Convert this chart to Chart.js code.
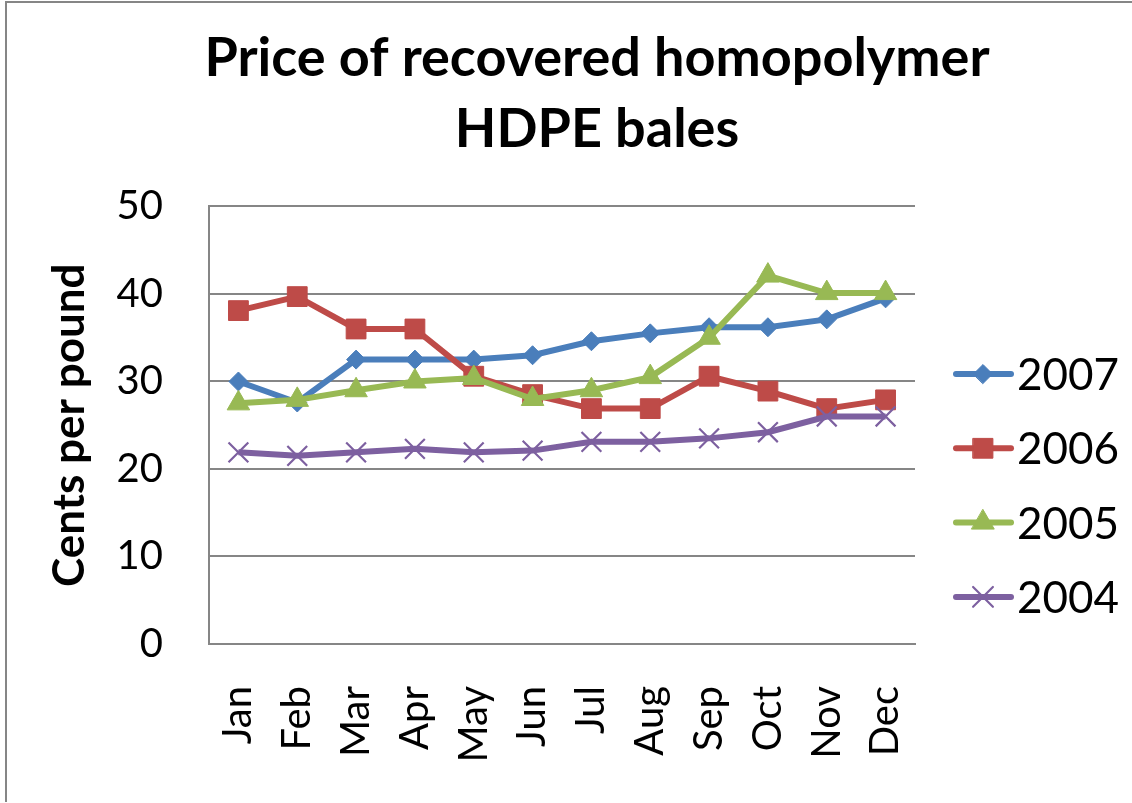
<!DOCTYPE html>
<html>
<head>
<meta charset="utf-8">
<script src="https://cdn.jsdelivr.net/npm/chart.js@4/dist/chart.umd.min.js"></script>
<style>
  body { margin: 0; overflow: hidden; background: #fff; }
  #wrap { position: absolute; left: 5px; top: 1px; border-left: 2px solid #868686; border-top: 2px solid #868686; }
  canvas { display: block; }
</style>
</head>
<body>
<div id="wrap"><canvas id="hdpeChart" width="1180" height="799"></canvas></div>
<script>
// Data (cents per pound)
const months = ['Jan', 'Feb', 'Mar', 'Apr', 'May', 'Jun', 'Jul', 'Aug', 'Sep', 'Oct', 'Nov', 'Dec'];
const seriesNames = ['2007', '2006', '2005', '2004'];
const price2007 = [30.0, 27.6, 32.5, 32.5, 32.5, 33.0, 34.6, 35.5, 36.2, 36.2, 37.1, 39.5];
const price2006 = [38.1, 39.7, 36.0, 36.0, 30.6, 28.5, 26.9, 26.9, 30.6, 28.9, 26.9, 27.9];
const price2005 = [27.5, 27.9, 29.0, 30.0, 30.4, 28.0, 29.0, 30.5, 35.0, 42.1, 40.1, 40.1];
const price2004 = [21.9, 21.5, 21.9, 22.3, 21.9, 22.1, 23.1, 23.1, 23.5, 24.2, 26.0, 26.0];
const yTicks = [0, 10, 20, 30, 40, 50];

const colors = ['#4A7EBB', '#BE4B48', '#98B954', '#7D60A0'];
const markers = ['rectRot', 'rect', 'triangle', 'crossRot'];
const markerSize = [9.5, 14, 13, 14];
const values = [price2007, price2006, price2005, price2004];

const gridGray = '#868686';
const fontFamily = 'Lato, "Open Sans", sans-serif';

// legend drawn as line + marker, like the spreadsheet legend
const lineLegend = {
    id: 'lineLegend',
    afterDraw(chart) {
        const ctx = chart.ctx;
        chart.data.datasets.forEach((ds, i) => {
            const y = 371 + i * 74.3;
            ctx.save();
            ctx.strokeStyle = ds.borderColor;
            ctx.lineWidth = 6;
            ctx.lineCap = 'round';
            ctx.beginPath();
            ctx.moveTo(949, y);
            ctx.lineTo(1004, y);
            ctx.stroke();
            ctx.fillStyle = ds.pointBackgroundColor;
            ctx.strokeStyle = ds.pointBorderColor;
            ctx.lineWidth = ds.pointBorderWidth;
            Chart.helpers.drawPoint(ctx, {pointStyle: ds.pointStyle, radius: ds.pointRadius, borderWidth: ds.pointBorderWidth}, 976, y);
            ctx.fillStyle = '#000';
            ctx.font = '44px ' + fontFamily;
            ctx.textBaseline = 'middle';
            ctx.textAlign = 'left';
            ctx.fillText(ds.label, 1010, y + 2);
            ctx.restore();
        });
    }
};

const ctx = document.getElementById('hdpeChart').getContext('2d');
const hdpeChart = new Chart(ctx, {
    type: 'line',
    data: {
        labels: months,
        datasets: seriesNames.map((name, i) => ({
            label: name,
            data: values[i],
            borderColor: colors[i],
            backgroundColor: colors[i],
            borderWidth: 6,
            pointStyle: markers[i],
            pointRadius: markerSize[i],
            pointHoverRadius: markerSize[i],
            pointBackgroundColor: colors[i],
            pointBorderColor: colors[i],
            pointBorderWidth: markers[i] === 'crossRot' ? 2.2 : 1,
            tension: 0,
            order: seriesNames.length - i
        }))
    },
    options: {
        responsive: false,
        animation: false,
        layout: { padding: 0 },
        plugins: {
            legend: { display: false },
            tooltip: { enabled: false },
            title: {
                display: true,
                text: ['Price of recovered homopolymer', 'HDPE bales'],
                color: '#000',
                font: { family: fontFamily, size: 54, weight: 'bold', lineHeight: 1.31 },
                padding: { top: 20, bottom: 42 }
            }
        },
        scales: {
            x: {
                offset: true,
                grid: { display: false, drawTicks: false },
                border: { display: true, color: gridGray, width: 2 },
                ticks: {
                    color: '#000',
                    font: { family: fontFamily, size: 40 },
                    minRotation: 90,
                    maxRotation: 90,
                    padding: 42,
                    autoSkip: false
                },
                afterFit: s => { s.height = 158; }
            },
            y: {
                min: 0,
                max: 50,
                afterBuildTicks: s => { s.ticks = yTicks.map(v => ({ value: v })); },
                grid: { color: gridGray, lineWidth: 2, drawTicks: false },
                border: { display: true, color: gridGray, width: 2 },
                ticks: {
                    color: '#000',
                    font: { family: fontFamily, size: 40 },
                    padding: 46
                },
                title: {
                    display: true,
                    text: 'Cents per pound',
                    color: '#000',
                    font: { family: fontFamily, size: 44, weight: 'bold' },
                    padding: { top: 36, bottom: 0 }
                },
                afterFit: s => { s.width = 202; }
            },
            // empty right-hand strip that holds the legend
            legendSpace: {
                type: 'linear',
                position: 'right',
                display: true,
                grid: { display: false, drawTicks: false },
                border: { display: false },
                ticks: { display: false },
                afterFit: s => { s.width = 272; }
            }
        }
    },
    plugins: [lineLegend]
});
</script>
</body>
</html>
